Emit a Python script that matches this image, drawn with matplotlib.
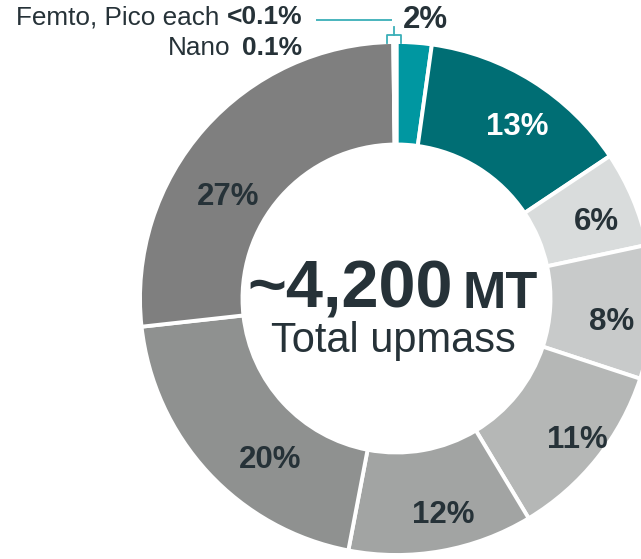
import matplotlib
matplotlib.use("Agg")
import matplotlib.pyplot as plt

plt.rcParams['font.family'] = ['Liberation Sans', 'DejaVu Sans']

# ---- data ----
segments = ["2%", "13%", "6%", "8%", "11%", "12%", "20%", "27%", "Femto", "Pico", "Nano"]
values = [2.2, 13.4, 6.0, 8.4, 11.3, 11.6, 20.2, 26.5, 0.05, 0.05, 0.1]
labels = ["2%", "13%", "6%", "8%", "11%", "12%", "20%", "27%", "", "", ""]
colors = ["#0097A1", "#006E74", "#D9DCDC", "#C8CACA", "#B5B7B6", "#A2A4A3",
          "#8F9190", "#7F7F7F", "#7F7F7F", "#7F7F7F", "#7F7F7F"]
label_pos = [(425, 20), (517, 127), (596, 222), (612, 322), (577, 440),
             (443, 515), (270, 460), (228, 197)]
label_colors = ["#263238", "white", "#263238", "#263238", "#263238",
                "#263238", "#263238", "#263238"]
total_text = "~4,200"
total_unit = "MT"
total_caption = "Total upmass"

W, H = 641, 559
TXT = "#263238"
TEAL_LINE = "#3AAFB8"

fig = plt.figure(figsize=(W / 100, H / 100), dpi=100)
ax = fig.add_axes([0, 0, 1, 1])

def Y(y):
    return H - y

cx, cy, R, r_in = 396.5, 298.5, 256.5, 154
ax.pie(values, colors=colors, startangle=90, counterclock=False,
       center=(cx, Y(cy)), radius=R,
       wedgeprops=dict(width=R - r_in, edgecolor="white", linewidth=2.8))
ax.set_xlim(0, W)
ax.set_ylim(0, H)
ax.set_aspect("equal")
ax.axis("off")

for lab, (x, y), c in zip(labels, label_pos, label_colors):
    if lab:
        ax.text(x, Y(y), lab, ha="center", va="center", fontsize=22.5,
                fontweight="bold", color=c)

# centre text
ax.text(453, Y(308), total_text, ha="right", va="baseline", fontsize=48,
        fontweight="bold", color=TXT)
ax.text(463, Y(308), total_unit, ha="left", va="baseline", fontsize=37.5,
        fontweight="bold", color=TXT)
ax.text(393.5, Y(352), total_caption, ha="center", va="baseline", fontsize=30,
        color=TXT)

# small-segment annotation
ax.text(302, Y(24), "<0.1%", ha="right", va="baseline", fontsize=19,
        fontweight="bold", color=TXT)
ax.text(219, Y(24), "Femto, Pico each", ha="right", va="baseline", fontsize=18.8,
        color=TXT)
ax.text(302, Y(55), "0.1%", ha="right", va="baseline", fontsize=19,
        fontweight="bold", color=TXT)
ax.text(230, Y(55), "Nano", ha="right", va="baseline", fontsize=18.8,
        color=TXT)

ax.plot([316, 392], [Y(20), Y(20)], color=TEAL_LINE, lw=1.3, solid_capstyle="butt")
ax.plot([394, 394], [Y(27), Y(35)], color=TEAL_LINE, lw=1.3)
ax.plot([387, 387, 401, 401], [Y(43), Y(35), Y(35), Y(43)], color=TEAL_LINE, lw=1.3)

fig.savefig("out.png", dpi=100, facecolor="white")
